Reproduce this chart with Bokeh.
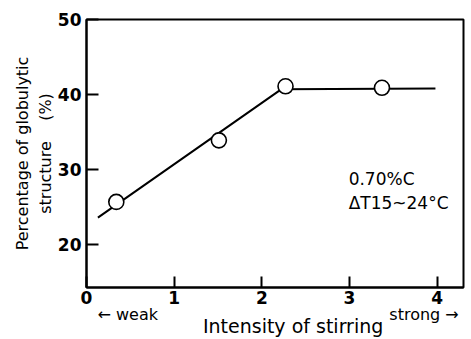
from bokeh.plotting import figure
from bokeh.models import LinearAxis, FixedTicker, Range1d, Label
from bokeh.embed import file_html
from bokeh.resources import INLINE

# data
x_points = [0.34, 1.51, 2.27, 3.37]
y_points = [25.7, 33.9, 41.1, 40.9]
x_fit = [0.13, 2.22, 3.98]
y_fit = [23.6, 40.7, 40.8]
x_ticks = [0, 1, 2, 3, 4]
y_ticks = [20, 30, 40, 50]
dir_ticks = [0.47, 3.85]
dir_labels = ["\u2190 weak", "strong \u2192"]
x_title = "Intensity of stirring"
y_title = ["Percentage of globulytic", "structure\u00a0\u00a0\u00a0\u00a0(%)"]
note_lines = ["0.70%C", "\u0394T15~24\u00b0C"]

FONT = "DejaVu Sans"

p = figure(width=471, height=339, output_backend="svg", toolbar_location=None,
           x_range=Range1d(0, 4.3), y_range=Range1d(14.3, 50),
           min_border_left=86, min_border_right=8, min_border_top=19, min_border_bottom=0)
p.background_fill_color = "white"
p.border_fill_color = "white"
p.grid.visible = False
p.outline_line_color = "black"
p.outline_line_width = 2

# x axis
xa = p.xaxis[0]
xa.ticker = FixedTicker(ticks=x_ticks)
xa.minor_tick_line_color = None
xa.major_tick_in = 11
xa.major_tick_out = 0
xa.major_tick_line_width = 2
xa.axis_line_width = 2
xa.major_label_text_font = FONT
xa.major_label_text_font_size = "17px"
xa.major_label_text_font_style = "bold"
xa.major_label_text_color = "black"
xa.major_label_standoff = 3

# direction axis with weak/strong
da = LinearAxis(ticker=FixedTicker(ticks=dir_ticks),
                major_label_overrides={t: s for t, s in zip(dir_ticks, dir_labels)})
da.axis_line_color = None
da.major_tick_line_color = None
da.minor_tick_line_color = None
da.major_tick_in = 0
da.major_tick_out = 0
da.major_label_standoff = -2
da.major_label_text_font = FONT
da.major_label_text_font_size = "16px"
da.major_label_text_color = "black"
da.axis_label = "\u00a0" * 6 + x_title
da.axis_label_text_font = FONT
da.axis_label_text_font_size = "19px"
da.axis_label_text_font_style = "normal"
da.axis_label_text_color = "black"
da.axis_label_standoff = -12
p.add_layout(da, "below")

# y axis
ya = p.yaxis[0]
ya.ticker = FixedTicker(ticks=y_ticks)
ya.minor_tick_line_color = None
ya.major_tick_in = 12
ya.major_tick_out = 0
ya.major_tick_line_width = 2
ya.axis_line_width = 2
ya.major_label_text_font = FONT
ya.major_label_text_font_size = "17px"
ya.major_label_text_font_style = "bold"
ya.major_label_text_color = "black"
ya.major_label_standoff = 5
ya.axis_label = "\n".join(y_title)
ya.axis_label_text_font = FONT
ya.axis_label_text_font_size = "16px"
ya.axis_label_text_font_style = "normal"
ya.axis_label_text_color = "black"
ya.axis_label_standoff = 0

p.line(x_fit, y_fit, line_color="black", line_width=2)
p.scatter(x_points, y_points, size=15, marker="circle", fill_color="white",
          line_color="black", line_width=1.6)

p.add_layout(Label(x=2.99, y=28.8, text=note_lines[0], text_font=FONT,
                   text_font_size="17px", text_baseline="middle", text_color="black"))
p.add_layout(Label(x=2.99, y=25.5, text=note_lines[1], text_font=FONT,
                   text_font_size="17px", text_baseline="middle", text_color="black"))

open("out.html", "w").write(file_html(p, INLINE))
